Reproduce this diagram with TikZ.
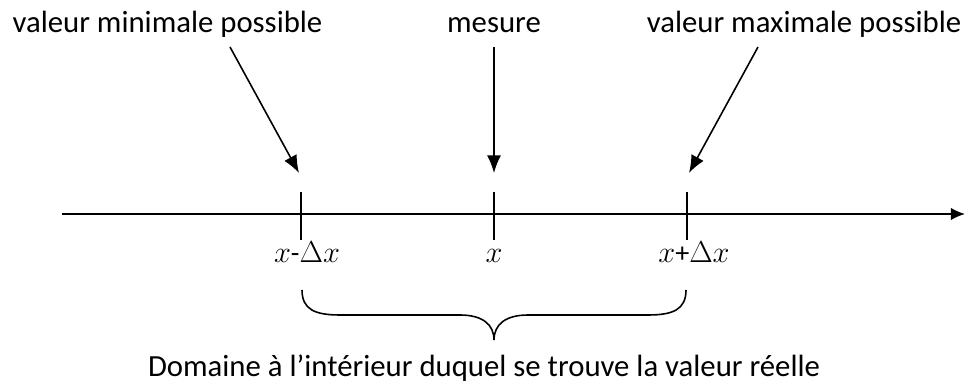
\documentclass[tikz,border=0pt]{standalone}
\usepackage{fontspec}
\setmainfont{Carlito}
\usepackage{tikz}
\usetikzlibrary{arrows.meta}

\begin{document}
\begin{tikzpicture}[font=\fontsize{17.5}{21}\selectfont]
				\useasboundingbox (0,0) rectangle (19.32,7.74);
				% axe
				\coordinate (O)at(1.24, 3.46);
				\coordinate (E)at(19.30, 3.46);
				\draw[-{Latex[length=8pt, width=7pt]}, line width=0.9pt] (O) -- (E);
				% graduations
				\coordinate (Lt)at(6.02, 3.90);
				\coordinate (Lb)at(6.02, 2.94);
				\coordinate (Mt)at(9.88, 3.90);
				\coordinate (Mb)at(9.88, 2.94);
				\coordinate (Rt)at(13.74, 3.90);
				\coordinate (Rb)at(13.74, 2.94);
				\draw[line width=0.9pt] (Lt) -- (Lb);
				\draw[line width=0.9pt] (Mt) -- (Mb);
				\draw[line width=0.9pt] (Rt) -- (Rb);
				\node[font=\fontsize{16}{19}\selectfont, anchor=base] (xmin)at(6.14, 2.48) {$x$-$\Delta x$};
				\node[font=\fontsize{16}{19}\selectfont, anchor=base] (xmes)at(9.88, 2.48) {$x$};
				\node[font=\fontsize{16}{19}\selectfont, anchor=base] (xmax)at(13.88, 2.48) {$x$+$\Delta x$};
				% textes du haut
				\node[anchor=base] (vmin)at(3.35, 7.08) {valeur minimale possible};
				\node[anchor=base] (mes)at(9.88, 7.08) {mesure};
				\node[anchor=base] (vmax)at(16.08, 7.08) {valeur maximale possible};
				\coordinate (Amin)at(4.60, 6.80);
				\coordinate (Amax)at(15.16, 6.80);
				\coordinate (Pmin)at(5.98, 4.28);
				\coordinate (Pmes)at(9.88, 4.28);
				\coordinate (Pmax)at(13.78, 4.28);
				\draw[-{Latex[length=10pt, width=8pt]}, line width=0.9pt] (Amin) -- (Pmin);
				\draw[-{Latex[length=10pt, width=8pt]}, line width=0.9pt] (mes.south |- Amin) -- (Pmes);
				\draw[-{Latex[length=10pt, width=8pt]}, line width=0.9pt] (Amax) -- (Pmax);
				% accolade
				\coordinate (Ba)at(6.04, 1.94);
				\coordinate (Bb)at(13.72, 1.94);
				\coordinate (Bt)at(9.88, 0.94);
				\draw[line width=0.9pt] (Ba) .. controls (6.04, 1.55) and (6.30, 1.44) .. (6.80, 1.44)
					-- (9.20, 1.44) .. controls (9.65, 1.44) and (9.88, 1.25) .. (Bt)
					.. controls (9.88, 1.25) and (10.11, 1.44) .. (10.56, 1.44)
					-- (12.96, 1.44) .. controls (13.46, 1.44) and (13.72, 1.55) .. (Bb);
				\node[anchor=base] (dom)at(9.68, 0.22) {Domaine à l’intérieur duquel se trouve la valeur réelle};
			\end{tikzpicture}
\end{document}
